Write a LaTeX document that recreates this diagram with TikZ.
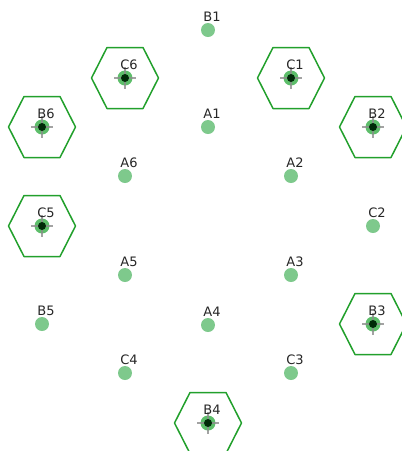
\documentclass[tikz,border=0pt]{standalone}
\usepackage{fontspec}
\setmainfont{DejaVu Sans}
\definecolor{dotgreen}{HTML}{7EC98C}
\definecolor{hexgreen}{HTML}{22A02C}
\definecolor{halogreen}{HTML}{5DBE6A}
\definecolor{coregreen}{HTML}{002A08}
\tikzset{
  pt/.style={circle,fill=dotgreen,inner sep=0pt,minimum size=14pt},
  lbl/.style={font=\fontsize{13}{14}\selectfont,text=black!85,inner sep=0pt},
  hexline/.style={draw=hexgreen,line width=1.5pt,line join=round},
}
\newcommand{\hexat}[1]{%
  \draw[hexline] ($(#1)+(-33.5,0)$) -- ++(15.5,-30.5) -- ++(36,0) -- ++(15.5,30.5) -- ++(-15.5,30.5) -- ++(-36,0) -- cycle;
  \fill[halogreen] (#1) circle (7.5);
  \draw[black!45,opacity=0.8,line width=1.1pt] ($(#1)+(-11,0)$) -- ($(#1)+(11,0)$);
  \draw[black!45,opacity=0.8,line width=1.1pt] ($(#1)+(0,-11)$) -- ($(#1)+(0,11)$);
  \fill[coregreen] (#1) circle (4);
}
\usetikzlibrary{calc}
\begin{document}
\begin{tikzpicture}[x=1pt,y=-1pt]
\useasboundingbox (0,0) rectangle (402,451);
\clip (0,0) rectangle (402,451);
\foreach \n/\x/\y in {B1/208/30,A1/208/127,A4/208/325,B4/208/423,
  C6/125/78,C1/291/78,B6/42/127,B2/373/127,A6/125/176,A2/291/176,
  C5/42/226,C2/373/226,A5/125/275,A3/291/275,B5/42/324,B3/373/324,
  C4/125/373,C3/291/373}{
  \node[pt] (\n) at (\x,\y) {};
}
\foreach \n in {C6,C1,B6,B2,C5,B3,B4}{\hexat{\n}}
\foreach \n in {B1,A1,A4,B4,C6,C1,B6,B2,A6,A2,C5,C2,A5,A3,B5,B3,C4,C3}{
  \node[lbl] (l\n) at ($(\n)+(4,-13.5)$) {\n};
}
\end{tikzpicture}
\end{document}
